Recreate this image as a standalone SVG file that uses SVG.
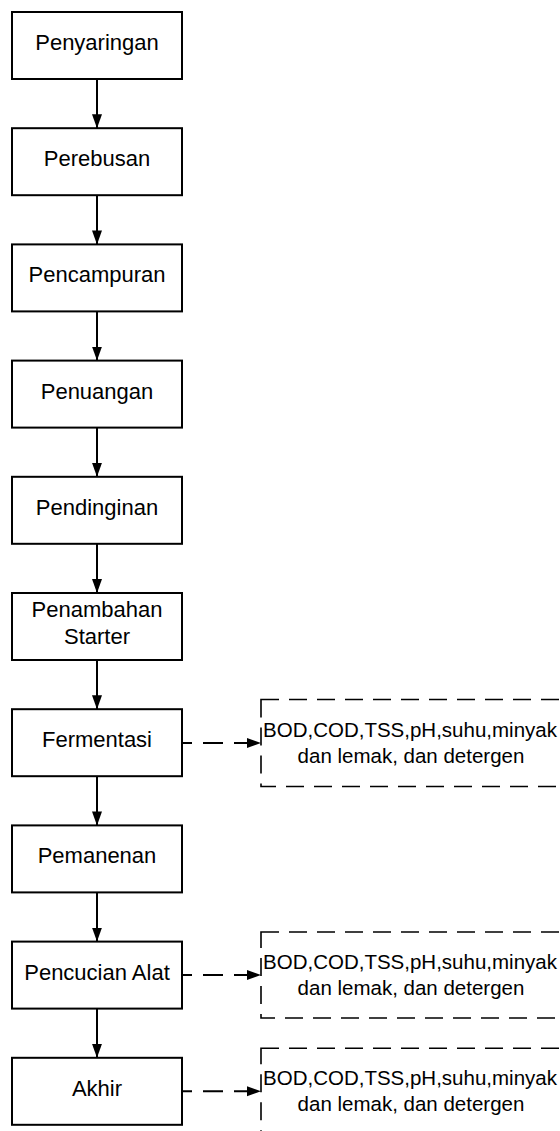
<svg xmlns="http://www.w3.org/2000/svg" width="560" height="1131" viewBox="0 0 560 1131">
<style>
.box{fill:#fff;stroke:#000;stroke-width:2}
.dbox{fill:#fff;stroke:#000;stroke-width:1.6;stroke-dasharray:18 10}
.t{font-family:"Liberation Sans",Arial,sans-serif;font-size:22px;fill:#000;text-anchor:middle}
.s{font-family:"Liberation Sans",Arial,sans-serif;font-size:20.5px;fill:#000;text-anchor:middle}
.c{stroke:#000;stroke-width:2;fill:none}
.cd{stroke:#000;stroke-width:2;fill:none;stroke-dasharray:20 11;stroke-dashoffset:10}
</style>
<defs>
<marker id="ah" markerUnits="userSpaceOnUse" markerWidth="16" markerHeight="12" refX="14" refY="5" orient="auto">
<path d="M0,0 L14,5 L0,10 z" fill="#000"/>
</marker>
</defs>
<rect width="560" height="1131" fill="#fff"/>
<g id="connectors">
<line class="c" x1="97" y1="79" x2="97" y2="128.2" marker-end="url(#ah)"/>
<line class="c" x1="97" y1="195.2" x2="97" y2="244.4" marker-end="url(#ah)"/>
<line class="c" x1="97" y1="311.4" x2="97" y2="360.6" marker-end="url(#ah)"/>
<line class="c" x1="97" y1="427.6" x2="97" y2="476.8" marker-end="url(#ah)"/>
<line class="c" x1="97" y1="543.8" x2="97" y2="593" marker-end="url(#ah)"/>
<line class="c" x1="97" y1="660" x2="97" y2="709.2" marker-end="url(#ah)"/>
<line class="c" x1="97" y1="776.2" x2="97" y2="825.4" marker-end="url(#ah)"/>
<line class="c" x1="97" y1="892.4" x2="97" y2="941.6" marker-end="url(#ah)"/>
<line class="c" x1="97" y1="1008.6" x2="97" y2="1057.8" marker-end="url(#ah)"/>
<line class="cd" x1="182" y1="743" x2="261" y2="743" marker-end="url(#ah)"/>
<line class="cd" x1="182" y1="975" x2="261" y2="975" marker-end="url(#ah)"/>
<line class="cd" x1="182" y1="1091.3" x2="261" y2="1091.3" marker-end="url(#ah)"/>
</g>
<g id="n1"><rect class="box" x="12" y="12" width="170" height="67"/><text class="t" x="97" y="50">Penyaringan</text></g>
<g id="n2"><rect class="box" x="12" y="128.2" width="170" height="67"/><text class="t" x="97" y="166.2">Perebusan</text></g>
<g id="n3"><rect class="box" x="12" y="244.4" width="170" height="67"/><text class="t" x="97" y="282.4">Pencampuran</text></g>
<g id="n4"><rect class="box" x="12" y="360.6" width="170" height="67"/><text class="t" x="97" y="398.6">Penuangan</text></g>
<g id="n5"><rect class="box" x="12" y="476.8" width="170" height="67"/><text class="t" x="97" y="514.8">Pendinginan</text></g>
<g id="n6"><rect class="box" x="12" y="593" width="170" height="67"/><text class="t" x="97" y="616.7">Penambahan</text><text class="t" x="97" y="644">Starter</text></g>
<g id="n7"><rect class="box" x="12" y="709.2" width="170" height="67"/><text class="t" x="97" y="747.2">Fermentasi</text></g>
<g id="n8"><rect class="box" x="12" y="825.4" width="170" height="67"/><text class="t" x="97" y="863.4">Pemanenan</text></g>
<g id="n9"><rect class="box" x="12" y="941.6" width="170" height="67"/><text class="t" x="97" y="979.6">Pencucian Alat</text></g>
<g id="n10"><rect class="box" x="12" y="1057.8" width="170" height="67"/><text class="t" x="97" y="1095.8">Akhir</text></g>
<g id="d1"><rect class="dbox" x="261" y="699.5" width="300" height="87"/><text class="s" x="410" y="736.5">BOD,COD,TSS,pH,suhu,minyak</text><text class="s" x="411" y="762.5">dan lemak, dan detergen</text></g>
<g id="d2"><rect class="dbox" x="261" y="932" width="300" height="86"/><text class="s" x="410" y="968.5">BOD,COD,TSS,pH,suhu,minyak</text><text class="s" x="411" y="994.5">dan lemak, dan detergen</text></g>
<g id="d3"><rect class="dbox" x="261" y="1048.3" width="300" height="86"/><text class="s" x="410" y="1084.8">BOD,COD,TSS,pH,suhu,minyak</text><text class="s" x="411" y="1110.8">dan lemak, dan detergen</text></g>
</svg>
